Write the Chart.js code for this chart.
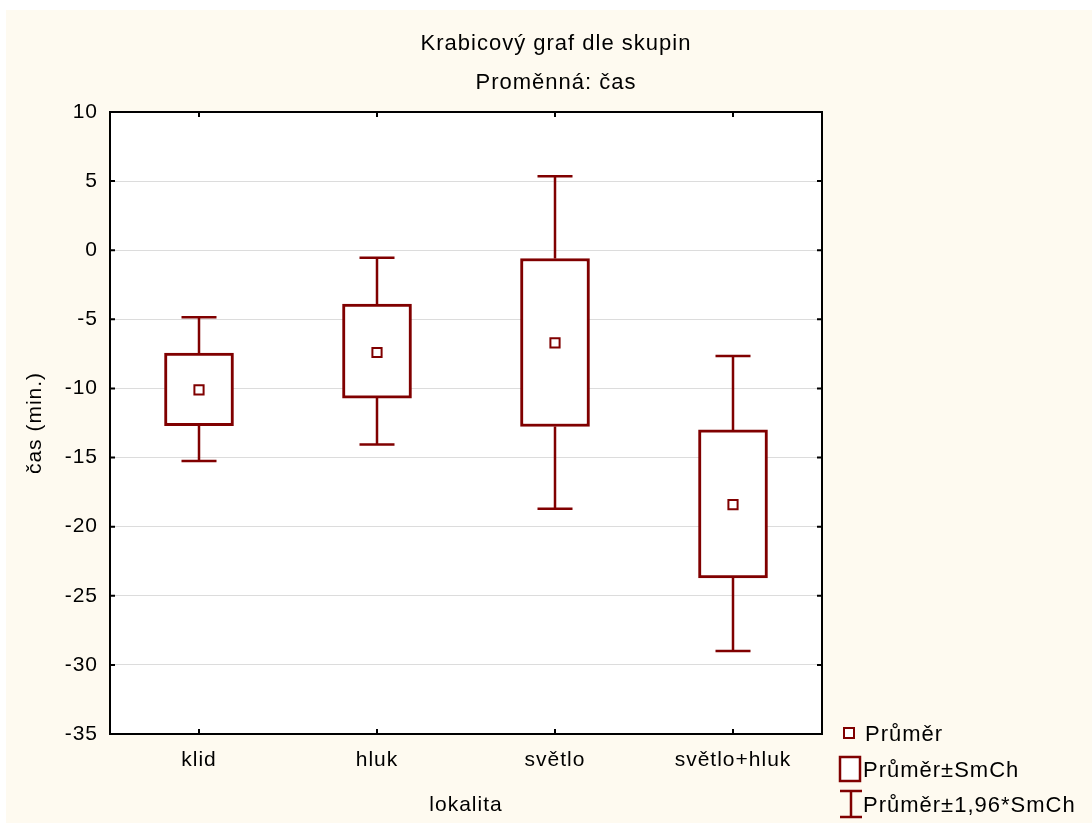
<!DOCTYPE html>
<html>
<head>
<meta charset="utf-8">
<script src="https://cdn.jsdelivr.net/npm/chart.js@4.4.1/dist/chart.umd.min.js"></script>
<style>
  html, body { margin: 0; padding: 0; background: #fff; }
  canvas { display: block; }
</style>
</head>
<body>
<canvas id="chart" width="1092" height="823"></canvas>
<script>
const categories = ['klid', 'hluk', 'světlo', 'světlo+hluk'];
const means = [-10.1, -7.4, -6.7, -18.4];
const seLow = [-12.7, -10.7, -12.75, -23.7];
const seHigh = [-7.45, -3.9, -0.6, -13.0];
const ciLow = [-15.25, -14.05, -18.7, -29.0];
const ciHigh = [-4.85, -0.55, 5.35, -7.65];
const yTicks = [10, 5, 0, -5, -10, -15, -20, -25, -30, -35];

const RED = '#800000';
const FONT = "'Liberation Sans', Arial, sans-serif";
const SPACING = '1px';

// background, frame, whiskers, titles and legend
const statPlugin = {
    id: 'stat',
    beforeUpdate(chart) {
        chart.ctx.letterSpacing = SPACING;
    },
    beforeDraw(chart) {
        const ctx = chart.ctx;
        const a = chart.chartArea;
        ctx.save();
        ctx.fillStyle = '#fff';
        ctx.fillRect(0, 0, chart.width, chart.height);
        ctx.fillStyle = '#fefaf0';
        ctx.fillRect(6, 10, chart.width - 6, chart.height - 10);
        ctx.fillStyle = '#fff';
        ctx.fillRect(a.left, a.top, a.right - a.left, a.bottom - a.top);
        ctx.restore();
        ctx.letterSpacing = SPACING;
    },
    afterDatasetsDraw(chart) {
        const ctx = chart.ctx;
        const x = chart.scales.x, y = chart.scales.y;
        ctx.save();
        ctx.strokeStyle = RED;
        ctx.lineWidth = 2.5;
        categories.forEach((c, i) => {
            const px = x.getPixelForValue(i);
            const pairs = [[seHigh[i], ciHigh[i]], [seLow[i], ciLow[i]]];
            pairs.forEach(([from, to]) => {
                const y1 = y.getPixelForValue(from), y2 = y.getPixelForValue(to);
                ctx.beginPath();
                ctx.moveTo(px, y1);
                ctx.lineTo(px, y2);
                ctx.moveTo(px - 17.5, y2);
                ctx.lineTo(px + 17.5, y2);
                ctx.stroke();
            });
        });
        ctx.restore();
    },
    afterDraw(chart) {
        const ctx = chart.ctx;
        const a = chart.chartArea;
        const x = chart.scales.x, y = chart.scales.y;
        ctx.save();
        // frame
        ctx.strokeStyle = '#000';
        ctx.lineWidth = 2;
        ctx.strokeRect(a.left, a.top, a.right - a.left, a.bottom - a.top);
        ctx.beginPath();
        yTicks.forEach(v => {
            const py = y.getPixelForValue(v);
            ctx.moveTo(a.left, py); ctx.lineTo(a.left + 5, py);
            ctx.moveTo(a.right, py); ctx.lineTo(a.right - 5, py);
        });
        categories.forEach((c, i) => {
            const px = x.getPixelForValue(i);
            ctx.moveTo(px, a.top); ctx.lineTo(px, a.top + 5);
            ctx.moveTo(px, a.bottom); ctx.lineTo(px, a.bottom - 5);
        });
        ctx.stroke();

        // titles
        ctx.letterSpacing = SPACING;
        ctx.fillStyle = '#000';
        ctx.textAlign = 'center';
        ctx.textBaseline = 'middle';
        ctx.font = '22px ' + FONT;
        ctx.fillText('Krabicový graf dle skupin', 556, 44);
        ctx.fillText('Proměnná: čas', 556, 83);
        ctx.font = '21px ' + FONT;
        ctx.fillText('lokalita', (a.left + a.right) / 2, 805);
        ctx.save();
        ctx.translate(35, (a.top + a.bottom) / 2);
        ctx.rotate(-Math.PI / 2);
        ctx.fillText('čas (min.)', 0, 0);
        ctx.restore();

        // legend
        ctx.textAlign = 'left';
        ctx.strokeStyle = RED;
        ctx.fillStyle = '#fff';
        ctx.lineWidth = 2;
        ctx.fillRect(844, 728, 10, 10);
        ctx.strokeRect(844, 728, 10, 10);
        ctx.lineWidth = 2.5;
        ctx.fillRect(840, 757, 20, 24);
        ctx.strokeRect(840, 757, 20, 24);
        ctx.beginPath();
        ctx.moveTo(851, 791); ctx.lineTo(851, 817);
        ctx.moveTo(840, 791); ctx.lineTo(862, 791);
        ctx.moveTo(840, 817); ctx.lineTo(862, 817);
        ctx.stroke();
        ctx.fillStyle = '#000';
        ctx.font = '22px ' + FONT;
        ctx.fillText('Průměr', 865, 735);
        ctx.fillText('Průměr±SmCh', 863, 771);
        ctx.fillText('Průměr±1,96*SmCh', 863, 806);
        ctx.restore();
    }
};

new Chart('chart', {
    type: 'bar',
    data: {
        labels: categories,
        datasets: [
            {
                label: 'Průměr±SmCh',
                data: seLow.map((v, i) => [v, seHigh[i]]),
                backgroundColor: '#fff',
                borderColor: RED,
                borderWidth: 3,
                borderSkipped: false,
                barThickness: 69,
                order: 2
            },
            {
                type: 'line',
                label: 'Průměr',
                data: means,
                showLine: false,
                pointStyle: 'rect',
                pointRadius: 6.5,
                pointHoverRadius: 6.5,
                pointBackgroundColor: '#fff',
                pointBorderColor: RED,
                pointBorderWidth: 2,
                order: 1
            }
        ]
    },
    options: {
        responsive: false,
        animation: false,
        events: [],
        layout: {
            padding: { left: 0, top: 112, right: 270, bottom: 0 }
        },
        plugins: {
            legend: { display: false },
            title: { display: false },
            tooltip: { enabled: false }
        },
        scales: {
            x: {
                grid: { display: false, drawTicks: false },
                border: { display: false },
                ticks: {
                    color: '#000',
                    padding: 14,
                    font: { family: FONT, size: 21 }
                },
                afterFit(scale) { scale.height = 89; }
            },
            y: {
                min: -35,
                max: 10,
                grid: { color: '#dcdcdc', lineWidth: 1, drawTicks: false },
                border: { display: false },
                ticks: {
                    stepSize: 5,
                    color: '#000',
                    padding: 12,
                    font: { family: FONT, size: 21 }
                },
                afterFit(scale) { scale.width = 110; }
            }
        }
    },
    plugins: [statPlugin]
});
</script>
</body>
</html>
